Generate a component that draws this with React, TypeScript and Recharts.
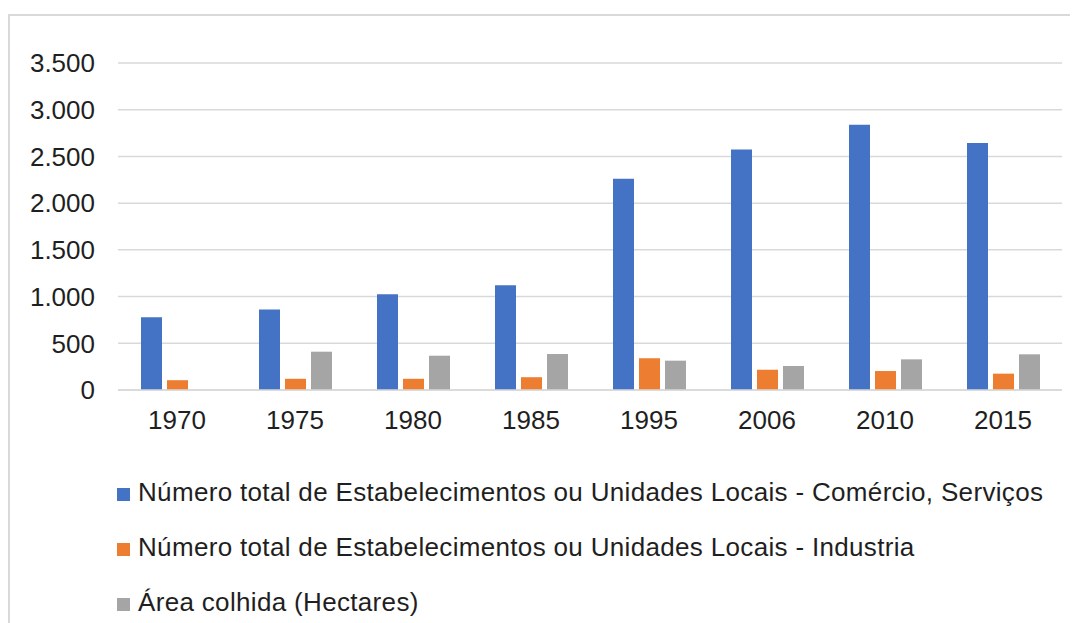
import React from 'react';
import { BarChart, Bar, XAxis, YAxis, CartesianGrid, Legend } from 'recharts';

const years = ['1970', '1975', '1980', '1985', '1995', '2006', '2010', '2015'];
const comercioServicos = [780, 862, 1025, 1120, 2262, 2575, 2838, 2645];
const industria = [105, 120, 120, 137, 340, 217, 203, 175];
const areaColhida: (number | null)[] = [null, 410, 367, 385, 314, 257, 328, 382];
const yTicks = [0, 500, 1000, 1500, 2000, 2500, 3000, 3500];

const seriesNames = [
  'Número total de Estabelecimentos ou Unidades Locais - Comércio, Serviços',
  'Número total de Estabelecimentos ou Unidades Locais - Industria',
  'Área colhida (Hectares)',
];
const seriesColors = ['#4472C4', '#ED7D31', '#A5A5A5'];
const seriesKeys = ['comercio', 'industria', 'area'];

const data = years.map((y, i) => ({
  year: y,
  comercio: comercioServicos[i],
  industria: industria[i],
  area: areaColhida[i],
}));

const fmt = (v: number) => String(v).replace(/\B(?=(\d{3})+(?!\d))/g, '.');

const FONT = '"Liberation Sans", Arial, sans-serif';

const LegendContent = () => (
  <div style={{ height: 180, width: 1070, position: 'relative', fontFamily: FONT }}>
    {seriesNames.map((name, i) => (
      <div
        key={name}
        style={{
          position: 'absolute',
          left: 109,
          top: 22 + 55 * i,
          height: 55,
          display: 'flex',
          alignItems: 'center',
          whiteSpace: 'nowrap',
        }}
      >
        <span
          style={{
            display: 'inline-block',
            width: 13,
            height: 13,
            background: seriesColors[i],
            marginRight: 8,
            marginTop: 3,
          }}
        />
        <span style={{ fontSize: 26, color: '#1f1f1f', letterSpacing: 0.33 }}>{name}</span>
      </div>
    ))}
  </div>
);

export default function App() {
  return (
    <div style={{ position: 'relative', width: 1070, height: 615, overflow: 'hidden' }}>
      <div
        style={{
          position: 'absolute',
          left: 0,
          top: 6,
          width: 1200,
          height: 800,
          borderLeft: '2px solid #d9d9d9',
          borderTop: '2px solid #d9d9d9',
          boxSizing: 'border-box',
        }}
      />
      <div style={{ position: 'absolute', left: 0, top: 0 }}>
        <BarChart
          width={1070}
          height={615}
          data={data}
          margin={{ top: 55, right: 16, bottom: 0, left: 0 }}
          barSize={21}
          barGap={5}
        >
          <CartesianGrid vertical={false} stroke="#d9d9d9" strokeWidth={1.5} />
          <XAxis
            dataKey="year"
            height={53}
            tickLine={false}
            tickSize={0}
            tickMargin={21}
            axisLine={{ stroke: '#d9d9d9', strokeWidth: 1.5 }}
            tick={{ fontSize: 26, fill: '#1f1f1f', fontFamily: FONT }}
            interval={0}
          />
          <YAxis
            width={110}
            domain={[0, 3500]}
            ticks={yTicks}
            tickFormatter={fmt}
            axisLine={false}
            tickLine={false}
            tickSize={0}
            tickMargin={23}
            tick={{ fontSize: 26, fill: '#1f1f1f', fontFamily: FONT }}
          />
          <Legend
            verticalAlign="bottom"
            align="left"
            wrapperStyle={{ left: 0, width: 1070, height: 180 }}
            content={() => <LegendContent />}
          />
          {seriesKeys.map((k, i) => (
            <Bar key={k} dataKey={k} name={seriesNames[i]} fill={seriesColors[i]} isAnimationActive={false} />
          ))}
        </BarChart>
      </div>
    </div>
  );
}
